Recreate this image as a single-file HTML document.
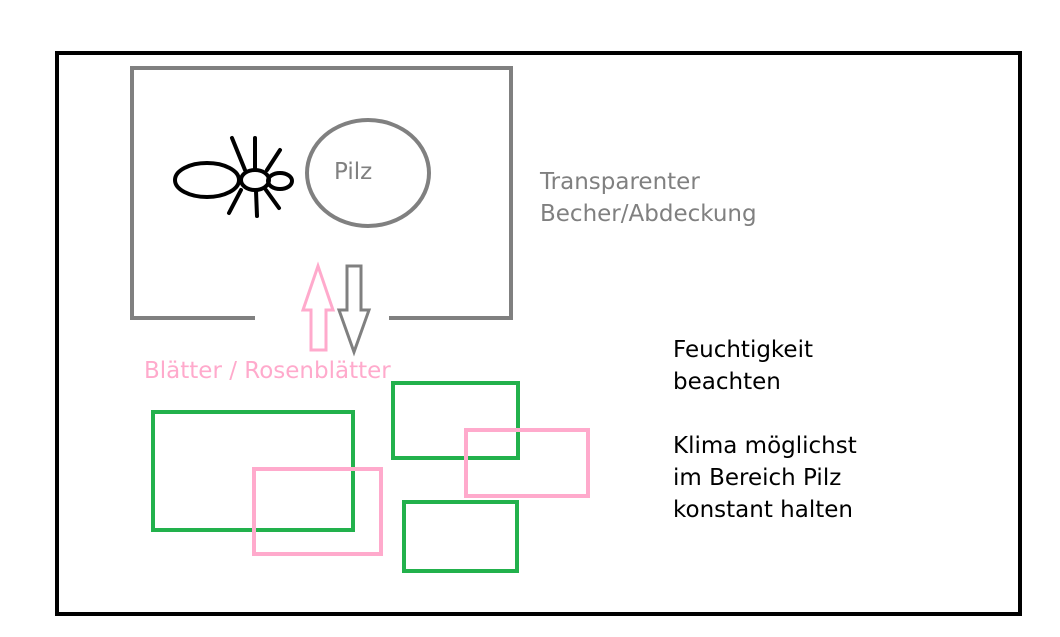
<!DOCTYPE html>
<html><head><meta charset="utf-8"><style>
body{margin:0;background:#fff;}
svg{display:block;}
text{font-family:"DejaVu Sans","Liberation Sans",sans-serif;}
</style></head><body>
<svg width="1060" height="637" viewBox="0 0 1060 637">
<rect x="57" y="53" width="963" height="561" fill="none" stroke="#000" stroke-width="4"/>
<polyline points="255,318 132,318 132,68 511,68 511,318 389,318" fill="none" stroke="#808080" stroke-width="4"/>
<ellipse cx="368" cy="173" rx="61" ry="53" fill="none" stroke="#808080" stroke-width="4"/>
<text x="334" y="179" font-size="23" fill="#808080">Pilz</text>
<g stroke="#000" stroke-width="4" fill="none" stroke-linecap="round">
<ellipse cx="207" cy="180" rx="32" ry="17"/>
<ellipse cx="255" cy="180" rx="14" ry="10"/>
<ellipse cx="280" cy="181" rx="12" ry="8"/>
<line x1="232" y1="138" x2="245" y2="170"/>
<line x1="241" y1="190" x2="229" y2="213"/>
<line x1="255" y1="138" x2="255" y2="170"/>
<line x1="256" y1="191" x2="257" y2="216"/>
<line x1="280" y1="150" x2="267" y2="170"/>
<line x1="266" y1="190" x2="279" y2="208"/>
</g>
<polygon points="311,350 326,350 326,310 333,310 318,266 303,310 311,310" fill="none" stroke="#ffaacc" stroke-width="3"/>
<polygon points="347,266 361,266 361,310 369,310 354,352 339,310 347,310" fill="none" stroke="#808080" stroke-width="3"/>
<text x="144" y="378" font-size="23" fill="#ffaacc">Blätter / Rosenblätter</text>
<text x="540" y="189" font-size="23" fill="#808080">Transparenter</text>
<text x="540" y="221" font-size="23" fill="#808080">Becher/Abdeckung</text>
<g font-size="23" fill="#000">
<text x="673" y="357">Feuchtigkeit</text>
<text x="673" y="389">beachten</text>
<text x="673" y="453">Klima möglichst</text>
<text x="673" y="485">im Bereich Pilz</text>
<text x="673" y="517">konstant halten</text>
</g>
<g fill="none" stroke-width="4">
<rect x="153" y="412" width="200" height="118" stroke="#22b14c"/>
<rect x="393" y="383" width="125" height="75" stroke="#22b14c"/>
<rect x="404" y="502" width="113" height="69" stroke="#22b14c"/>
<rect x="254" y="469" width="127" height="85" stroke="#ffaacc"/>
<rect x="466" y="430" width="122" height="66" stroke="#ffaacc"/>
</g>
</svg>
</body></html>
